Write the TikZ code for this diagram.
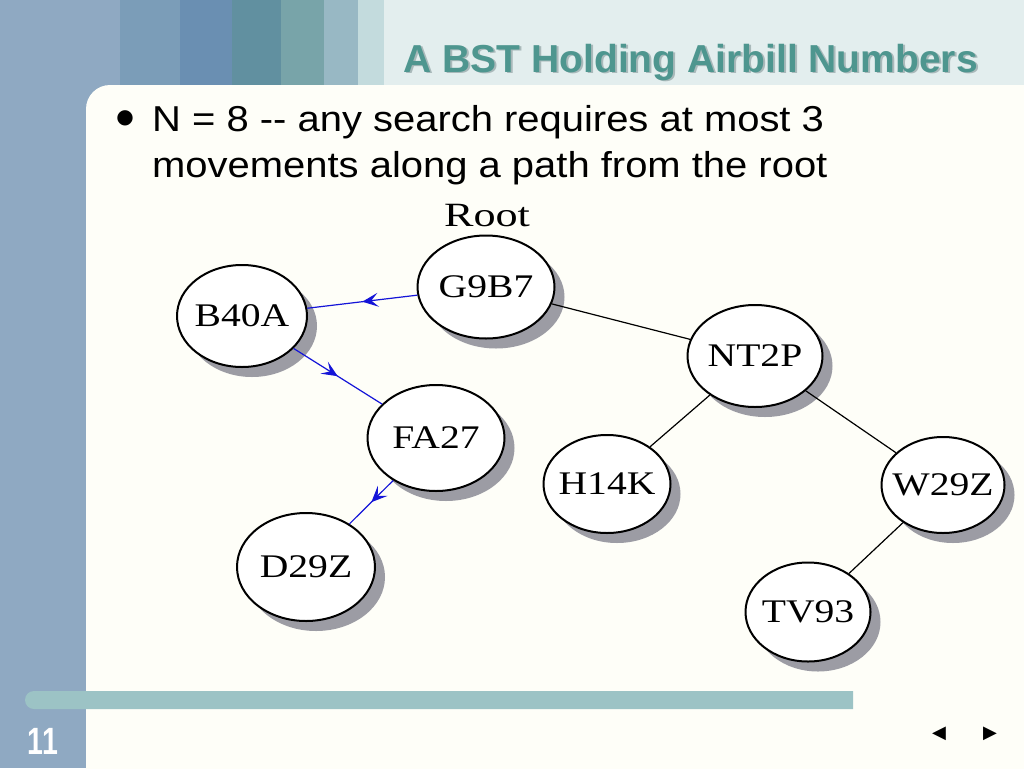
\documentclass[tikz,border=0pt]{standalone}
\usepackage{fontspec}
\setmainfont{Liberation Sans}
\newfontfamily\treefont[FakeStretch=1.2]{Liberation Serif}
\newfontfamily\rootfont[FakeStretch=1.3]{Liberation Serif}
\newfontfamily\bodyfont[FakeStretch=1.11]{Liberation Sans}
\newfontfamily\pagefont[FakeStretch=0.75]{Liberation Sans}
\newfontfamily\symfont{DejaVu Sans}
\usetikzlibrary{shapes.geometric, shadows, decorations.markings, arrows.meta}

\definecolor{sidebar}{HTML}{8FA9C2}
\definecolor{bandA}{HTML}{7B9DB8}
\definecolor{bandB}{HTML}{6A8FB2}
\definecolor{bandC}{HTML}{6190A0}
\definecolor{bandD}{HTML}{78A4A9}
\definecolor{bandE}{HTML}{98B8C4}
\definecolor{bandF}{HTML}{C3DBDD}
\definecolor{bandG}{HTML}{E3EEEE}
\definecolor{panel}{HTML}{FEFEF8}
\definecolor{titleteal}{HTML}{4E968F}
\definecolor{titleshade}{HTML}{A9B9BA}
\definecolor{barteal}{HTML}{9CC3C5}
\definecolor{shadowgray}{HTML}{9C9CA4}
\definecolor{searchblue}{HTML}{1414D8}

\begin{document}
\begin{tikzpicture}[x=1pt,y=-1pt]
            \tikzstyle{key}   = [ellipse, draw, line width=2pt, fill=white, inner xsep=-25pt, inner ysep=-5pt, minimum width=134pt, minimum height=102pt, font=\treefont\fontsize{33}{33}\selectfont, drop shadow={shadow xshift=10pt, shadow yshift=-10pt, fill=shadowgray, opacity=1}]
            \tikzstyle{link}  = [line width=1.2pt]
            \tikzstyle{probe} = [line width=1.2pt, searchblue, postaction={decorate}, decoration={markings, mark=at position 0.5 with {\arrow{Stealth[length=16pt, width=14pt, inset=7pt]}}}]

            \clip (0,0) rectangle (1024,768);

            % Slide frame .........................
            \fill[sidebar] (0,0) rectangle (1024,768);
            \fill[bandA] (120,0) rectangle (180,85);
            \fill[bandB] (180,0) rectangle (232,85);
            \fill[bandC] (232,0) rectangle (281,85);
            \fill[bandD] (281,0) rectangle (324,85);
            \fill[bandE] (324,0) rectangle (358,85);
            \fill[bandF] (358,0) rectangle (384,85);
            \fill[bandG] (384,0) rectangle (1024,85);
            \fill[panel, rounded corners=24pt] (86,85) rectangle (1100,850);
            \fill[barteal] (34,691) -- (853,691) -- (853,709) -- (34,709) arc[start angle=90, end angle=270, radius=9] -- cycle;

            \node[anchor=base east, inner sep=0pt, text=titleshade, font=\bfseries\fontsize{39}{39}\selectfont] (shade) at (980,74) {A BST Holding Airbill Numbers};
            \node[anchor=base east, inner sep=0pt, text=titleteal, font=\bfseries\fontsize{39}{39}\selectfont] (title) at (978,72) {A BST Holding Airbill Numbers};

            \node[font=\symfont\fontsize{20}{20}\selectfont] (dot) at (125,118) {●};
            \node[anchor=base west, inner sep=0pt, font=\bodyfont\fontsize{36}{36}\selectfont] (line1) at (152,131) {N = 8 -{}- any search requires at most 3};
            \node[anchor=base west, inner sep=0pt, font=\bodyfont\fontsize{36}{36}\selectfont] (line2) at (152,177) {movements along a path from the root};

            \node[anchor=base, inner sep=0pt, text=white, font=\pagefont\bfseries\fontsize{38}{38}\selectfont] (page) at (43,754) {11};
            \node[font=\symfont\fontsize{18}{18}\selectfont] (prev) at (939,734) {◀};
            \node[font=\symfont\fontsize{18}{18}\selectfont] (next) at (990,734) {▶};

            % Tree .........................
            \node[font=\rootfont\fontsize{34}{34}\selectfont] (root) at (487,216) {Root};

            \node[key, minimum width=137pt, minimum height=103pt] (g9b7) at (486,287) {G9B7};
            \node[key, minimum width=130pt] (b40a) at (242,316) {B40A};
            \node[key, minimum width=135pt] (nt2p) at (755,356) {NT2P};
            \node[key, minimum width=137pt, minimum height=106pt] (fa27) at (436,438) {FA27};
            \node[key, minimum width=127pt, minimum height=98pt] (h14k) at (607,484) {H14K};
            \node[key, minimum width=123pt, minimum height=96pt] (w29z) at (943,485) {W29Z};
            \node[key, minimum width=138pt, minimum height=108pt] (d29z) at (306,567) {D29Z};
            \node[key, minimum width=125pt, minimum height=99pt] (tv93) at (808,612) {TV93};

            \draw[link] (g9b7) -- (nt2p);
            \draw[link] (nt2p) -- (h14k);
            \draw[link] (nt2p) -- (w29z);
            \draw[link] (w29z) -- (tv93);

            \draw[probe] (g9b7) -- (b40a);
            \draw[probe] (b40a) -- (fa27);
            \draw[probe] (fa27) -- (d29z);

        \end{tikzpicture}
\end{document}
